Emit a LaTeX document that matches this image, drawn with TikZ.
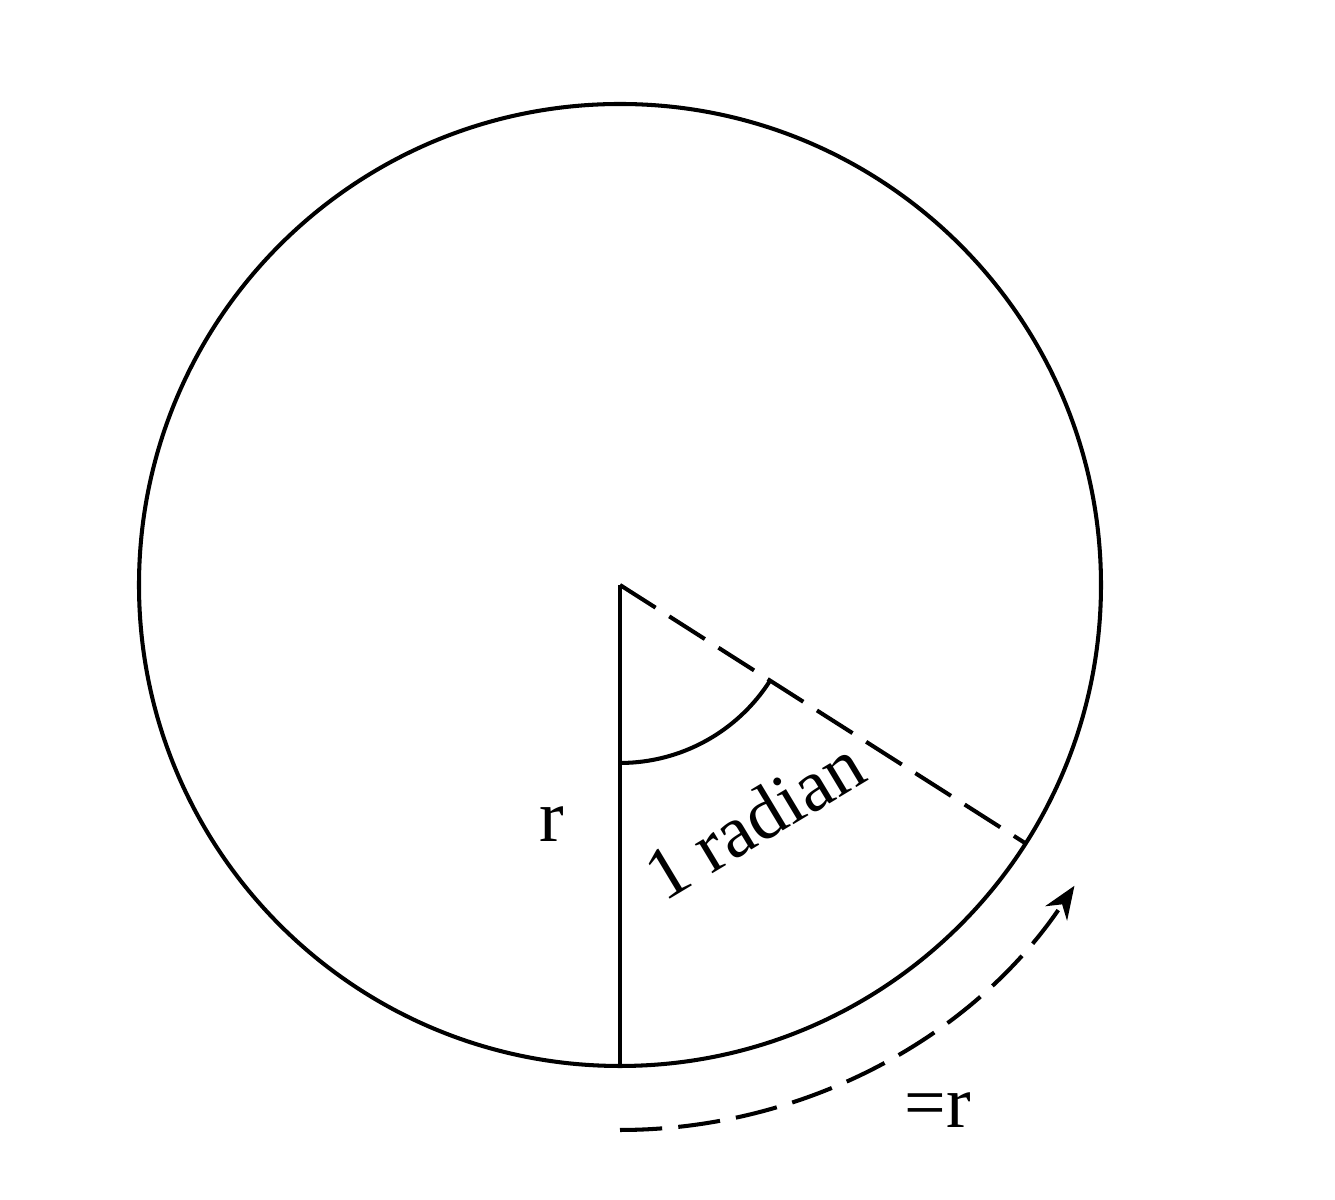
\documentclass[tikz,border=0pt]{standalone}
\usepackage{fontspec}
\setmainfont{Liberation Serif}
\usetikzlibrary{arrows.meta,calc}
\tikzset{
  stroke/.style={line width=1.15pt, black},
  dash line/.style={stroke, dash pattern=on 12pt off 4.6pt},
  lbl/.style={font=\fontsize{21}{25}\selectfont, inner sep=0pt, anchor=base}
}
\begin{document}
\begin{tikzpicture}[x=0.01cm,y=0.01cm]
\useasboundingbox (0,0) rectangle (1335,1200);
\coordinate (O) at (620,615);
\coordinate (B) at ($(O)+(-90:481)$);
\coordinate (P) at ($(O)+(-32.5:481)$);
\coordinate (S) at ($(O)+(-90:545)$);
% circle
\draw[stroke] (O) circle[radius=481];
% radius
\draw[stroke] (O) -- (B);
\draw[dash line] (O) -- (P);
% angle arc
\draw[stroke] ($(O)+(-90:178)$) arc[start angle=-90, end angle=-32.5, radius=178];
% arc-length arrow
\draw[dash line, -{Stealth[length=0.33cm, width=0.26cm]}] (S) arc[start angle=-90, end angle=-33.5, radius=545];
% labels
\node[lbl] (r) at (552,358) {r};
\node[lbl, rotate=31] (rad) at (767,359) {1 radian};
\node[lbl] (eqr) at (938,72) {=r};
\end{tikzpicture}
\end{document}
